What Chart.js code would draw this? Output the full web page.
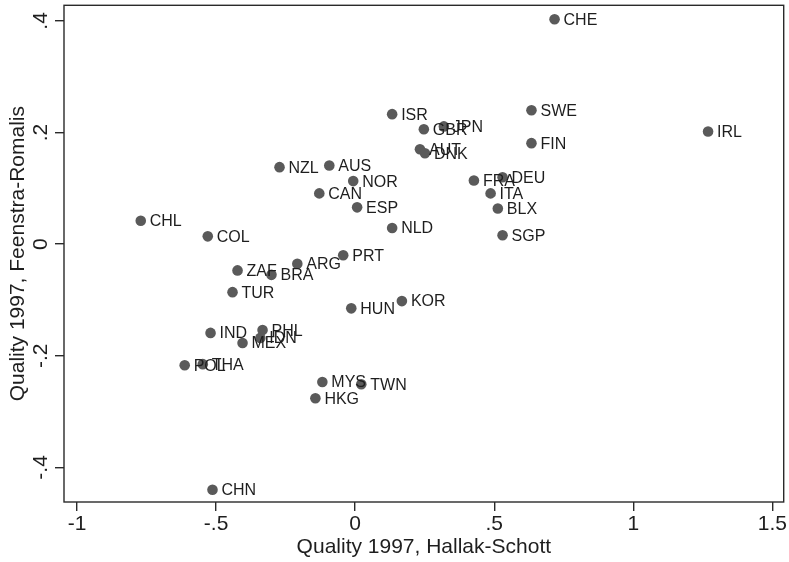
<!DOCTYPE html>
<html lang="en">
<head>
  <meta charset="UTF-8">
  <title>Quality 1997: Hallak-Schott vs Feenstra-Romalis</title>
  <script src="https://cdn.jsdelivr.net/npm/chart.js@4"></script>
  <style>
    html, body { margin: 0; padding: 0; background: #fff; }
  </style>
</head>
<body>
  <canvas id="chart" width="789" height="562"></canvas>

  <script>
    // Country codes and the two quality estimates
    const countries = ['CHE', 'SWE', 'IRL', 'FIN', 'ISR', 'GBR', 'JPN', 'AUT', 'DNK', 'FRA',
                       'DEU', 'ITA', 'BLX', 'SGP', 'NZL', 'AUS', 'NOR', 'CAN', 'ESP', 'NLD',
                       'CHL', 'COL', 'ZAF', 'BRA', 'ARG', 'PRT', 'TUR', 'HUN', 'KOR', 'IND',
                       'PHL', 'MEX', 'IDN', 'POL', 'THA', 'MYS', 'TWN', 'HKG', 'CHN'];
    const qualityHS = [0.717, 0.634, 1.269, 0.634, 0.133, 0.247, 0.319, 0.233, 0.251, 0.427,
                       0.530, 0.487, 0.513, 0.530, -0.272, -0.093, -0.007, -0.129, 0.007, 0.133,
                       -0.771, -0.530, -0.423, -0.301, -0.208, -0.043, -0.441, -0.014, 0.168, -0.520,
                       -0.333, -0.405, -0.341, -0.613, -0.548, -0.118, 0.022, -0.143, -0.513];
    const qualityFR = [0.403, 0.240, 0.202, 0.181, 0.233, 0.206, 0.211, 0.170, 0.163, 0.114,
                       0.120, 0.091, 0.064, 0.016, 0.138, 0.141, 0.113, 0.091, 0.066, 0.029,
                       0.042, 0.014, -0.047, -0.055, -0.035, -0.020, -0.086, -0.115, -0.102, -0.159,
                       -0.154, -0.177, -0.168, -0.217, -0.215, -0.247, -0.251, -0.276, -0.440];

    const xTickValues = [-1, -0.5, 0, 0.5, 1, 1.5];
    const xTickLabels = ['-1', '-.5', '0', '.5', '1', '1.5'];
    const yTickValues = [-0.4, -0.2, 0, 0.2, 0.4];
    const yTickLabels = ['-.4', '-.2', '0', '.2', '.4'];

    const FONT = '"Liberation Sans", Arial, Helvetica, sans-serif';
    const INK = '#1e1e1e';
    const AXIS = '#2a2a2a';

    // marker labels to the right of each dot, drawn over all markers
    const pointLabels = {
      id: 'pointLabels',
      afterDatasetsDraw(chart) {
        const ctx = chart.ctx;
        const meta = chart.getDatasetMeta(0);
        ctx.save();
        ctx.font = '16px ' + FONT;
        ctx.fillStyle = INK;
        ctx.textBaseline = 'middle';
        ctx.textAlign = 'left';
        meta.data.forEach((pt, i) => {
          ctx.fillText(countries[i], pt.x + 9, pt.y + 1);
        });
        ctx.restore();
      }
    };

    // box round the plot region
    const plotFrame = {
      id: 'plotFrame',
      afterDraw(chart) {
        const a = chart.chartArea;
        const ctx = chart.ctx;
        ctx.save();
        ctx.strokeStyle = AXIS;
        ctx.lineWidth = 1.4;
        ctx.strokeRect(a.left, a.top, a.right - a.left, a.bottom - a.top);
        ctx.restore();
      }
    };

    new Chart(document.getElementById('chart'), {
      type: 'scatter',
      data: {
        datasets: [{
          data: countries.map((c, i) => ({ x: qualityHS[i], y: qualityFR[i] })),
          backgroundColor: '#5a5a5a',
          borderWidth: 0,
          pointRadius: 5.3,
          pointHoverRadius: 5.3
        }]
      },
      options: {
        responsive: false,
        animation: false,
        devicePixelRatio: 1,
        layout: { padding: { top: 5, right: 0, left: 0, bottom: 0 } },
        plugins: { legend: { display: false }, tooltip: { enabled: false } },
        scales: {
          x: {
            type: 'linear',
            min: -1.047,
            max: 1.541,
            afterBuildTicks: s => { s.ticks = xTickValues.map(v => ({ value: v })); },
            afterFit: s => { s.height = 60; s.paddingLeft = 0; s.paddingRight = 0; },
            ticks: {
              autoSkip: false,
              maxRotation: 0,
              padding: 1,
              color: INK,
              font: { family: FONT, size: 21 },
              callback: (v, i) => xTickLabels[i]
            },
            grid: { drawOnChartArea: false, drawTicks: true, tickLength: 9, color: AXIS, lineWidth: 1.4 },
            border: { display: false },
            title: {
              display: true,
              text: 'Quality 1997, Hallak-Schott',
              color: INK,
              font: { family: FONT, size: 21 },
              padding: { top: 0, bottom: 2 }
            }
          },
          y: {
            type: 'linear',
            min: -0.462,
            max: 0.428,
            afterBuildTicks: s => { s.ticks = yTickValues.map(v => ({ value: v })); },
            afterFit: s => { s.width = 64; s.paddingTop = 0; s.paddingBottom = 0; },
            ticks: {
              autoSkip: false,
              minRotation: 90,
              maxRotation: 90,
              crossAlign: 'center',
              padding: 2,
              color: INK,
              font: { family: FONT, size: 21 },
              callback: (v, i) => yTickLabels[i]
            },
            grid: { drawOnChartArea: false, drawTicks: true, tickLength: 9, color: AXIS, lineWidth: 1.4 },
            border: { display: false },
            title: {
              display: true,
              text: 'Quality 1997, Feenstra-Romalis',
              color: INK,
              font: { family: FONT, size: 21 },
              padding: { top: 6, bottom: 0 }
            }
          }
        }
      },
      plugins: [pointLabels, plotFrame]
    });
  </script>
</body>
</html>
